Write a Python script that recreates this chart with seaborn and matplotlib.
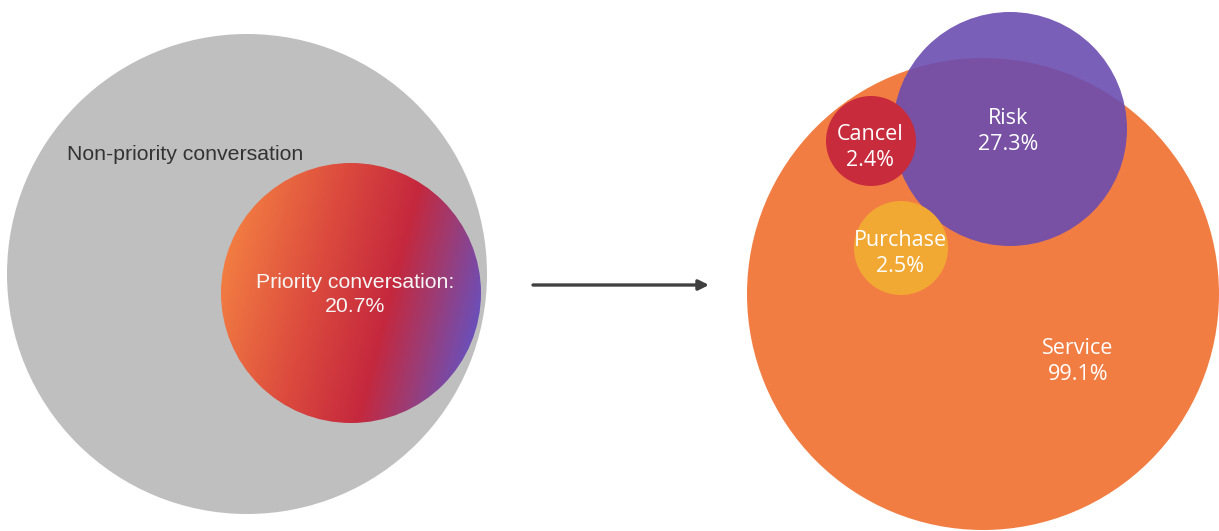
import numpy as np
import matplotlib
matplotlib.use("Agg")
import matplotlib.pyplot as plt
from matplotlib.patches import Circle
from matplotlib.colors import LinearSegmentedColormap
import seaborn as sns

# Conversation overview
overview_labels = ["Non-priority conversation", "Priority conversation:"]
priority_share = 20.7

# Breakdown of priority conversations by intent
intent_labels = ["Service", "Risk", "Cancel", "Purchase"]
intent_shares = [99.1, 27.3, 2.4, 2.5]

# Layout (pixel space): circle centres / radii and label anchors
outer_circle = dict(cx=247, cy=274, r=240)
inner_circle = dict(cx=351, cy=293, r=130)
intent_layout = {
    "Service":  dict(cx=983, cy=294, r=236, lx=1078, ly=362),
    "Risk":     dict(cx=1010, cy=129, r=117, lx=1008, ly=131),
    "Cancel":   dict(cx=871, cy=141, r=45, lx=870, ly=147),
    "Purchase": dict(cx=901, cy=248, r=47, lx=900, ly=254),
}
intent_colors = {
    "Service": "#F27D43",
    "Risk": "#6B4DB0",
    "Cancel": "#C82B3C",
    "Purchase": "#F2A933",
}
intent_alpha = {"Service": 1.0, "Risk": 0.9, "Cancel": 1.0, "Purchase": 1.0}
intent_z = {"Service": 1, "Risk": 2, "Cancel": 3, "Purchase": 3}

sns.set_theme(style="white")
plt.rcParams["font.family"] = ["Liberation Sans", "DejaVu Sans"]

W, H = 1219, 531
fig = plt.figure(figsize=(W / 100, H / 100), dpi=100)
ax = fig.add_axes([0, 0, 1, 1])
ax.set_xlim(0, W)
ax.set_ylim(H, 0)
ax.set_aspect("equal")
ax.axis("off")

# Left: all conversations
ax.add_patch(Circle((outer_circle["cx"], outer_circle["cy"]), outer_circle["r"],
                    facecolor="#BFBFBF", edgecolor="none", zorder=1))
ax.text(67, 155, overview_labels[0], fontsize=15.3, color="#333333",
        ha="left", va="center", zorder=5)

# Priority slice with a tilted orange -> red -> purple gradient
cx, cy, r = inner_circle["cx"], inner_circle["cy"], inner_circle["r"]
grad_cmap = LinearSegmentedColormap.from_list(
    "priority", [(0.0, "#F27C42"), (0.35, "#DC4B3E"), (0.65, "#C5283D"),
                 (0.82, "#9C3C75"), (1.0, "#6C4FB8")])
n = 400
xs = np.linspace(cx - r, cx + r, n)
ys = np.linspace(cy - r, cy + r, n)
gx, gy = np.meshgrid(xs, ys)
d = np.array([0.968, 0.252])
proj = ((gx - cx) * d[0] + (gy - cy) * d[1]) / r
t = np.clip((proj + 1) / 2, 0, 1)
clip = Circle((cx, cy), r, facecolor="none", edgecolor="none", transform=ax.transData)
ax.add_patch(clip)
img = ax.imshow(t, cmap=grad_cmap, vmin=0, vmax=1, origin="upper",
                extent=(cx - r, cx + r, cy + r, cy - r), interpolation="bilinear",
                zorder=2)
img.set_clip_path(clip)
ax.set_xlim(0, W)
ax.set_ylim(H, 0)
ax.text(355, 282, overview_labels[1], fontsize=15.3, color="#F5F5F5",
        ha="center", va="center", zorder=5)
ax.text(355, 307, f"{priority_share}%", fontsize=15.3, color="#F5F5F5",
        ha="center", va="center", zorder=5)

# Arrow
ax.annotate("", xy=(709, 285), xytext=(533, 285),
            arrowprops=dict(arrowstyle="-|>", color="#404040", lw=2.4,
                            mutation_scale=15, shrinkA=0, shrinkB=0))

# Right: intent bubbles
for name, share in zip(intent_labels, intent_shares):
    lay = intent_layout[name]
    ax.add_patch(Circle((lay["cx"], lay["cy"]), lay["r"], facecolor=intent_colors[name],
                        edgecolor="none", alpha=intent_alpha[name], zorder=intent_z[name]))
    ax.text(lay["lx"], lay["ly"] - 13, name, fontsize=15.5, color="#FFFFFF",
            family=["Open Sans", "DejaVu Sans"], ha="center", va="center", zorder=6)
    ax.text(lay["lx"], lay["ly"] + 13, f"{share}%", fontsize=15.5, color="#FFFFFF",
            family=["Open Sans", "DejaVu Sans"], ha="center", va="center", zorder=6)

fig.savefig("out.png", dpi=100, facecolor="white")
